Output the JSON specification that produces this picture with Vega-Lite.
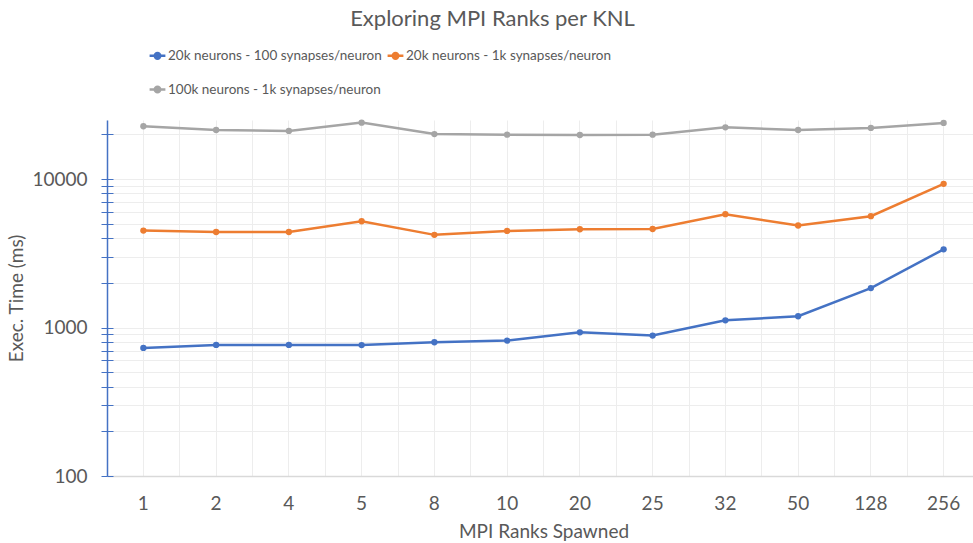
{
  "$schema": "https://vega.github.io/schema/vega-lite/v6.json",
  "width": 873,
  "height": 356,
  "autosize": {"type": "none"},
  "padding": {"left": 107, "top": 120, "right": 0, "bottom": 67},
  "background": "white",
  "config": {
    "font": "Lato",
    "view": {"stroke": null},
    "axis": {"labelFont": "Lato", "titleFont": "Lato", "labelColor": "#595959", "titleColor": "#595959", "titleFontWeight": "normal"}
  },
  "title": {
    "text": "Exploring MPI Ranks per KNL",
    "font": "Lato",
    "fontSize": 22,
    "fontWeight": "normal",
    "color": "#595959",
    "anchor": "middle",
    "frame": "group",
    "dx": -51,
    "offset": 15
  },
  "data": {
    "values": [
      {"ranks": "1", "series": "20k neurons - 100 synapses/neuron", "time": 729},
      {"ranks": "2", "series": "20k neurons - 100 synapses/neuron", "time": 764},
      {"ranks": "4", "series": "20k neurons - 100 synapses/neuron", "time": 764},
      {"ranks": "5", "series": "20k neurons - 100 synapses/neuron", "time": 762},
      {"ranks": "8", "series": "20k neurons - 100 synapses/neuron", "time": 796},
      {"ranks": "10", "series": "20k neurons - 100 synapses/neuron", "time": 817},
      {"ranks": "20", "series": "20k neurons - 100 synapses/neuron", "time": 929},
      {"ranks": "25", "series": "20k neurons - 100 synapses/neuron", "time": 883},
      {"ranks": "32", "series": "20k neurons - 100 synapses/neuron", "time": 1119},
      {"ranks": "50", "series": "20k neurons - 100 synapses/neuron", "time": 1191},
      {"ranks": "128", "series": "20k neurons - 100 synapses/neuron", "time": 1843},
      {"ranks": "256", "series": "20k neurons - 100 synapses/neuron", "time": 3365},
      {"ranks": "1", "series": "20k neurons - 1k synapses/neuron", "time": 4500},
      {"ranks": "2", "series": "20k neurons - 1k synapses/neuron", "time": 4400},
      {"ranks": "4", "series": "20k neurons - 1k synapses/neuron", "time": 4400},
      {"ranks": "5", "series": "20k neurons - 1k synapses/neuron", "time": 5200},
      {"ranks": "8", "series": "20k neurons - 1k synapses/neuron", "time": 4210},
      {"ranks": "10", "series": "20k neurons - 1k synapses/neuron", "time": 4475},
      {"ranks": "20", "series": "20k neurons - 1k synapses/neuron", "time": 4595},
      {"ranks": "25", "series": "20k neurons - 1k synapses/neuron", "time": 4610},
      {"ranks": "32", "series": "20k neurons - 1k synapses/neuron", "time": 5800},
      {"ranks": "50", "series": "20k neurons - 1k synapses/neuron", "time": 4865},
      {"ranks": "128", "series": "20k neurons - 1k synapses/neuron", "time": 5623},
      {"ranks": "256", "series": "20k neurons - 1k synapses/neuron", "time": 9290},
      {"ranks": "1", "series": "100k neurons - 1k synapses/neuron", "time": 22700},
      {"ranks": "2", "series": "100k neurons - 1k synapses/neuron", "time": 21400},
      {"ranks": "4", "series": "100k neurons - 1k synapses/neuron", "time": 21100},
      {"ranks": "5", "series": "100k neurons - 1k synapses/neuron", "time": 24000},
      {"ranks": "8", "series": "100k neurons - 1k synapses/neuron", "time": 20100},
      {"ranks": "10", "series": "100k neurons - 1k synapses/neuron", "time": 19900},
      {"ranks": "20", "series": "100k neurons - 1k synapses/neuron", "time": 19800},
      {"ranks": "25", "series": "100k neurons - 1k synapses/neuron", "time": 19900},
      {"ranks": "32", "series": "100k neurons - 1k synapses/neuron", "time": 22300},
      {"ranks": "50", "series": "100k neurons - 1k synapses/neuron", "time": 21400},
      {"ranks": "128", "series": "100k neurons - 1k synapses/neuron", "time": 22100},
      {"ranks": "256", "series": "100k neurons - 1k synapses/neuron", "time": 23900}
    ]
  },
  "resolve": {"axis": {"x": "independent", "y": "independent"}},
  "layer": [
    {
      "mark": {"type": "line", "opacity": 0},
      "encoding": {
        "x": {
          "field": "ranks", "type": "ordinal",
          "sort": ["1","2","4","5","8","10","20","25","32","50","128","256"],
          "scale": {"type": "band", "paddingInner": 0, "paddingOuter": 0},
          "axis": {"orient": "bottom", "bandPosition": 0, "grid": true, "gridColor": "#EDEDED", "gridWidth": 1, "labels": false, "ticks": false, "domain": false, "title": null}
        },
        "y": {
          "field": "time", "type": "quantitative",
          "scale": {"type": "log", "domain": [100, 25000], "nice": false},
          "axis": {
            "orient": "left",
            "values": [100,200,300,400,500,600,700,800,900,1000,2000,3000,4000,5000,6000,7000,8000,9000,10000,20000],
            "grid": true, "gridColor": "#EDEDED", "gridWidth": 1,
            "labels": false, "domain": false, "ticks": true, "tickColor": "#4472C4", "tickSize": 6, "offset": -6, "title": null
          }
        }
      }
    },
    {
      "mark": {"type": "line", "strokeWidth": 2.5, "point": {"filled": true, "size": 40}},
      "encoding": {
        "x": {
          "field": "ranks", "type": "ordinal",
          "sort": ["1","2","4","5","8","10","20","25","32","50","128","256"],
          "axis": {
            "orient": "bottom",
            "bandPosition": 0.5, "grid": true, "gridColor": "#EDEDED", "gridWidth": 1,
            "labelAngle": 0, "labelFontSize": 19, "labelPadding": 18, "ticks": false,
            "domain": true, "domainColor": "#D9D9D9", "domainWidth": 1.5,
            "title": "MPI Ranks Spawned", "titleFontSize": 19, "titlePadding": 9
          }
        },
        "y": {
          "field": "time", "type": "quantitative",
          "scale": {"type": "log", "domain": [100, 25000], "nice": false},
          "axis": {
            "orient": "left",
            "values": [100,200,300,400,500,600,700,800,900,1000,2000,3000,4000,5000,6000,7000,8000,9000,10000,20000],
            "labelExpr": "(datum.value == 100 || datum.value == 1000 || datum.value == 10000) ? datum.value : ''",
            "grid": false, "labelFontSize": 19, "labelPadding": 14,
            "domain": true, "domainColor": "#4472C4", "domainWidth": 1.5,
            "ticks": true, "tickColor": "#4472C4", "tickSize": 6,
            "title": "Exec. Time (ms)", "titleFontSize": 19, "titlePadding": 5
          }
        },
        "color": {
          "field": "series", "type": "nominal",
          "sort": ["20k neurons - 100 synapses/neuron", "20k neurons - 1k synapses/neuron", "100k neurons - 1k synapses/neuron"],
          "scale": {"range": ["#4472C4", "#ED7D31", "#A5A5A5"]},
          "legend": {
            "title": null, "orient": "none", "legendX": 41, "legendY": -74,
            "direction": "horizontal", "columns": 2, "columnPadding": 0, "rowPadding": 16,
            "labelFont": "Lato", "labelFontSize": 13.5, "labelColor": "#595959", "labelOffset": 1, "labelLimit": 0,
            "symbolType": "M-1,0H1M-0.35,0A0.35,0.35 0 1,1 0.35,0A0.35,0.35 0 1,1 -0.35,0Z",
            "symbolSize": 250, "symbolStrokeWidth": 2.5
          }
        }
      }
    }
  ]
}
